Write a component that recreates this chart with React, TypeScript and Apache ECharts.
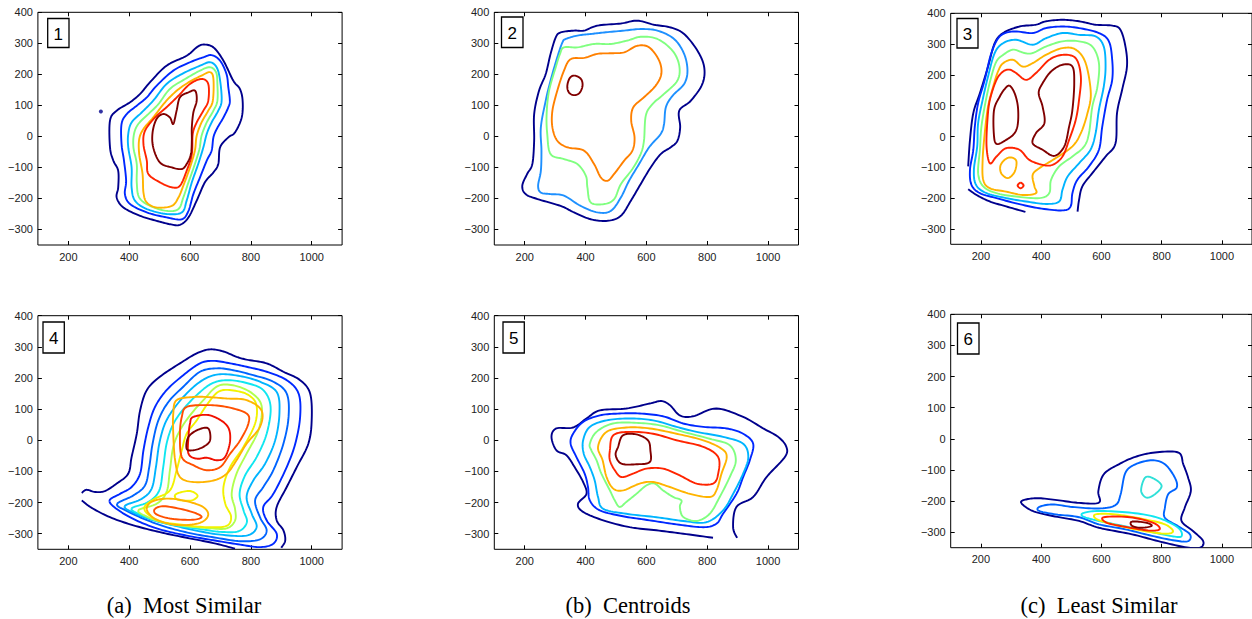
import React, { useEffect, useRef } from "react";
import * as echarts from "echarts";

// ---------- axes / labels ----------
const xTicks = [200, 400, 600, 800, 1000];
const yTicks = [-300, -200, -100, 0, 100, 200, 300, 400];
const xMin = 100, xMax = 1100, yMin = -350, yMax = 400;
const panelLabels = ["1", "2", "3", "4", "5", "6"];
const captions = ["(a)  Most Similar", "(b)  Centroids", "(c)  Least Similar"];

// ---------- colours (jet-like levels) ----------
const NAVY = "#00008C";
const BLUE = "#0028FF";
const BLUE2 = "#0064FF";
const DODGER = "#1E90FF";
const SKY = "#00B4FF";
const CYAN = "#10E6F0";
const AQUA = "#30E0D8";
const GREEN = "#80FF80";
const YGREEN = "#B0FF50";
const YELLOW = "#F2F200";
const ORANGE = "#FFB400";
const ORANGE2 = "#FF8000";
const RED1 = "#FF5000";
const RED = "#FF2400";
const RED2 = "#F01000";
const DARKRED = "#800000";

// ---------- panel 1 ----------
const p1Navy = [[644,296],[677,287],[710,244],[742,180],[764,153],[773,115],[770,61],[748,13],[726,-3],[699,-35],[693,-89],[677,-116],[649,-148],[622,-207],[595,-261],[567,-285],[534,-283],[490,-272],[436,-256],[381,-229],[359,-197],[364,-164],[364,-111],[348,-78],[337,-35],[337,51],[359,83],[403,110],[436,137],[468,174],[523,228],[589,260],[622,287]];
const p1Blue = [[671,262],[699,244],[720,201],[726,158],[731,115],[726,94],[710,61],[688,24],[677,-3],[671,-46],[655,-78],[633,-132],[611,-186],[595,-240],[573,-267],[523,-261],[458,-245],[403,-218],[386,-186],[390,-143],[383,-78],[375,-25],[375,40],[392,72],[425,99],[458,126],[490,163],[545,212],[600,239],[644,255]];
const p1Sky = [[666,239],[688,222],[699,180],[704,115],[693,83],[671,45],[655,8],[644,-35],[627,-89],[606,-148],[589,-207],[573,-245],[523,-250],[458,-234],[419,-207],[408,-164],[408,-100],[397,-35],[397,8],[408,45],[441,77],[479,115],[523,169],[573,201],[633,228]];
const p1Green = [[666,223],[686,206],[690,169],[690,115],[677,83],[655,45],[638,2],[631,-41],[614,-95],[595,-148],[578,-197],[562,-234],[523,-240],[469,-224],[433,-197],[425,-148],[425,-89],[414,-35],[416,8],[430,40],[463,72],[496,104],[534,153],[584,185],[633,212]];
const p1Orange = [[666,207],[677,185],[675,115],[660,83],[638,45],[622,2],[616,-46],[600,-100],[578,-159],[562,-197],[540,-224],[490,-229],[458,-213],[447,-181],[444,-121],[433,-57],[433,-9],[447,24],[479,61],[518,110],[556,147],[595,174],[638,196]];
const p1Red = [[638,185],[660,169],[660,115],[644,83],[622,45],[609,8],[606,-57],[589,-111],[567,-159],[540,-164],[501,-148],[463,-121],[458,-78],[447,-25],[452,18],[485,61],[523,94],[562,131],[600,169]];
const p1DarkRed = [[595,142],[617,147],[622,115],[611,77],[606,29],[606,-14],[603,-57],[589,-89],[573,-105],[540,-100],[501,-84],[479,-35],[477,13],[490,56],[512,72],[534,61],[545,40],[556,83],[567,126]];
const p1Dot = [[307,80]];

// ---------- panel 2 ----------
const p2Navy = [[318,335],[362,341],[395,341],[439,357],[516,364],[570,373],[625,360],[680,351],[724,330],[768,276],[790,223],[784,169],[746,115],[708,83],[711,29],[702,-14],[680,-35],[647,-57],[614,-100],[581,-154],[549,-207],[516,-256],[472,-272],[417,-267],[362,-245],[318,-224],[242,-202],[203,-186],[192,-159],[208,-121],[225,-89],[231,-14],[231,72],[247,147],[269,201],[285,266],[302,319]];
const p2Blue = [[335,314],[373,325],[417,330],[461,335],[527,341],[581,346],[636,341],[691,314],[724,266],[735,212],[724,169],[686,131],[664,94],[658,40],[647,8],[609,-35],[576,-89],[543,-143],[516,-197],[483,-240],[439,-245],[384,-224],[329,-191],[285,-186],[253,-181],[244,-159],[253,-111],[255,-46],[253,29],[269,115],[285,180],[307,255],[324,303]];
const p2Green = [[329,287],[373,287],[428,298],[483,298],[538,309],[581,321],[636,314],[686,276],[708,228],[702,180],[658,137],[620,104],[598,67],[592,-14],[581,-57],[554,-105],[516,-154],[494,-202],[461,-218],[417,-213],[406,-164],[401,-127],[373,-89],[329,-73],[285,-57],[274,8],[272,72],[280,147],[302,223],[316,266]];
const p2Orange = [[351,249],[395,253],[439,266],[483,268],[527,271],[570,292],[609,287],[642,244],[649,201],[630,163],[592,126],[557,94],[550,51],[561,-3],[554,-46],[527,-78],[494,-121],[472,-143],[450,-132],[428,-89],[395,-46],[340,-35],[307,-14],[291,29],[291,83],[307,147],[329,212]];
const p2DarkRed = [[364,196],[385,185],[390,163],[380,140],[362,133],[345,142],[340,163],[348,188]];

// ---------- panel 3 ----------
const p3Navy = [[158,-97],[164,-11],[175,76],[197,141],[224,227],[246,303],[274,336],[328,357],[383,363],[416,374],[471,379],[526,374],[581,363],[636,360],[663,347],[680,292],[685,227],[669,152],[652,76],[647,-22],[614,-65],[570,-119],[537,-162],[526,-206],[521,-244]];
const p3Navy2 = [[158,-171],[186,-190],[230,-211],[284,-227],[348,-245]];
const p3Blue = [[263,325],[307,341],[372,336],[416,352],[471,357],[526,352],[592,336],[625,309],[636,249],[636,184],[619,119],[603,32],[592,-43],[559,-97],[520,-141],[504,-184],[498,-227],[471,-240],[394,-233],[317,-217],[252,-200],[197,-184],[169,-157],[164,-108],[175,-43],[180,32],[191,108],[213,184],[235,271]];
const p3Sky = [[274,303],[317,314],[372,298],[416,319],[471,336],[526,330],[581,325],[608,292],[614,227],[608,162],[592,87],[581,11],[564,-43],[526,-87],[488,-130],[471,-173],[460,-211],[416,-219],[350,-211],[284,-200],[219,-184],[184,-157],[177,-108],[188,-32],[191,43],[206,119],[224,195],[246,271]];
const p3Green = [[274,265],[307,282],[345,271],[372,271],[416,292],[471,309],[526,309],[570,292],[592,238],[587,162],[570,97],[559,11],[543,-32],[504,-65],[460,-97],[433,-141],[427,-184],[394,-200],[317,-195],[252,-184],[208,-162],[191,-119],[197,-43],[202,32],[217,119],[235,195],[252,244]];
const p3Orange = [[274,238],[307,249],[339,227],[372,238],[416,265],[471,287],[515,282],[548,238],[565,141],[554,76],[532,11],[504,-32],[449,-70],[394,-103],[372,-125],[378,-162],[383,-184],[339,-190],[284,-179],[230,-168],[208,-141],[206,-76],[213,11],[224,97],[241,162],[257,211]];
const p3OrangeIsland = [[300,-68],[318,-80],[312,-115],[290,-135],[268,-120],[265,-95],[280,-75]];
const p3Red = [[295,217],[317,206],[350,184],[383,206],[427,249],[471,265],[515,254],[532,195],[526,119],[515,54],[493,-11],[471,-65],[438,-92],[405,-92],[361,-76],[328,-43],[284,-38],[252,-65],[230,-87],[219,-32],[222,54],[230,119],[252,184],[274,211]];
const p3RedIsland = [[332,-150],[342,-159],[332,-168],[322,-159]];
const p3DarkRedL = [[295,165],[312,141],[323,97],[323,43],[312,11],[284,-11],[252,-24],[243,11],[244,87],[263,130],[279,154]];
const p3DarkRedR = [[471,233],[504,227],[510,173],[504,87],[493,32],[477,-32],[444,-63],[405,-43],[372,-22],[383,11],[411,43],[405,97],[392,141],[405,173],[433,211]];

// ---------- panel 4 ----------
const p4Navy = [[244,-169],[260,-159],[288,-166],[320,-163],[359,-139],[397,-107],[408,-54],[425,21],[436,96],[458,161],[501,204],[567,247],[622,279],[666,292],[710,285],[753,268],[786,259],[852,247],[907,220],[962,193],[995,150],[1000,64],[989,-11],[951,-86],[918,-150],[885,-214],[885,-257],[907,-289],[913,-322],[900,-345]];
const p4Navy2 = [[244,-193],[277,-217],[337,-247],[414,-273],[501,-295],[589,-313],[677,-330],[748,-348]];
const p4Blue = [[335,-195],[370,-172],[408,-150],[436,-107],[447,-32],[463,43],[485,107],[523,161],[578,209],[633,247],[677,255],[732,247],[786,236],[852,220],[918,193],[957,150],[962,75],[946,-11],[918,-86],[874,-172],[841,-214],[852,-257],[885,-300],[874,-332],[830,-343],[765,-335],[677,-321],[589,-306],[501,-286],[430,-260],[370,-228]];
const p4Blue2 = [[360,-205],[414,-177],[452,-145],[466,-86],[477,-11],[496,64],[529,123],[578,172],[633,220],[688,231],[742,225],[808,209],[874,188],[918,150],[924,75],[907,-11],[874,-96],[841,-150],[814,-193],[830,-247],[852,-289],[830,-318],[765,-324],[680,-312],[600,-298],[520,-278],[450,-253],[395,-228]];
const p4Sky = [[385,-212],[441,-188],[474,-155],[488,-86],[499,-11],[518,54],[551,107],[600,161],[650,198],[699,212],[765,206],[830,188],[885,155],[894,86],[880,0],[847,-75],[808,-129],[786,-182],[803,-236],[819,-279],[786,-306],[700,-303],[620,-290],[545,-273],[480,-257],[420,-235]];
const p4Cyan = [[408,-219],[463,-198],[499,-161],[512,-86],[523,-11],[543,48],[575,96],[622,145],[671,182],[721,193],[786,184],[841,161],[865,107],[852,21],[819,-54],[781,-113],[763,-172],[776,-225],[787,-263],[760,-292],[700,-294],[640,-286],[567,-276],[500,-262],[440,-240]];
const p4Green = [[430,-225],[490,-204],[523,-166],[534,-96],[545,-21],[567,32],[600,80],[644,129],[693,175],[753,174],[808,148],[836,107],[825,32],[786,-43],[753,-107],[737,-172],[748,-220],[748,-258],[720,-283],[660,-282],[590,-276],[520,-266],[465,-248]];
const p4Yellow = [[450,-215],[480,-190],[534,-161],[556,-96],[573,-32],[589,21],[622,64],[660,120],[700,159],[760,157],[800,140],[819,110],[814,54],[776,-21],[732,-86],[710,-150],[716,-204],[735,-245],[720,-275],[655,-279],[580,-272],[510,-262],[465,-240]];
const p4YellowIsland = [[560,-170],[600,-163],[625,-178],[605,-193],[565,-192],[550,-181]];
const p4Orange = [[556,129],[611,139],[655,139],[721,134],[786,129],[835,96],[830,43],[786,-11],[753,-64],[721,-107],[677,-129],[611,-134],[567,-118],[551,-64],[545,21],[545,86]];
const p4OrangeLow = [[458,-222],[479,-195],[545,-188],[633,-209],[660,-238],[633,-265],[560,-272],[490,-255]];
const p4Red1 = [[589,107],[655,113],[721,107],[786,86],[792,54],[765,0],[732,-43],[699,-86],[655,-96],[611,-80],[573,-54],[567,21],[573,75]];
const p4RedLow = [[485,-220],[520,-212],[600,-228],[638,-245],[610,-255],[540,-252],[490,-238]];
const p4Red2 = [[611,75],[666,80],[721,48],[732,0],[715,-54],[688,-64],[655,-56],[622,-59],[595,-43],[595,11],[600,54]];
const p4DarkRed = [[627,34],[660,38],[666,0],[644,-21],[611,-32],[589,-27],[595,11]];

// ---------- panel 5 ----------
const p5Navy = [[898,-313],[885,-279],[896,-214],[951,-182],[995,-118],[1055,-54],[1060,-21],[1033,11],[984,38],[918,75],[830,102],[753,77],[710,80],[677,113],[649,126],[611,118],[534,102],[447,96],[403,70],[359,41],[304,38],[288,11],[304,-32],[337,-48],[364,-86],[392,-134],[403,-172],[375,-204],[392,-230],[458,-257],[545,-279],[633,-289],[721,-300],[819,-313]];
const p5Blue = [[359,21],[392,59],[447,80],[512,86],[578,86],[655,77],[721,54],[787,43],[864,38],[918,21],[951,-11],[940,-64],[918,-118],[896,-172],[852,-236],[830,-268],[787,-279],[699,-270],[611,-257],[523,-244],[447,-225],[414,-193],[408,-150],[397,-107],[370,-54],[351,-11]];
const p5Sky = [[392,0],[414,43],[469,64],[545,70],[622,64],[699,43],[765,27],[852,11],[918,-11],[935,-54],[918,-107],[885,-172],[852,-225],[797,-263],[721,-259],[633,-247],[534,-236],[458,-220],[441,-182],[430,-129],[414,-86],[394,-43]];
const p5Green = [[414,-11],[436,27],[490,54],[567,56],[644,48],[721,27],[808,5],[874,-16],[894,-64],[874,-118],[841,-182],[808,-236],[765,-259],[721,-246],[710,-214],[715,-193],[688,-182],[655,-161],[627,-139],[600,-145],[567,-172],[534,-198],[512,-214],[496,-193],[480,-161],[452,-107],[436,-64],[419,-32]];
const p5Orange = [[441,-21],[469,27],[534,41],[611,38],[699,21],[787,0],[847,-27],[864,-54],[847,-107],[830,-161],[808,-182],[743,-172],[677,-150],[622,-134],[578,-139],[523,-161],[491,-155],[469,-118],[456,-64]];
const p5Red = [[480,-32],[491,16],[545,27],[622,21],[699,0],[787,-21],[836,-54],[836,-107],[819,-139],[765,-139],[710,-113],[655,-91],[600,-91],[556,-107],[518,-118],[496,-96],[480,-64]];
const p5DarkRed = [[523,16],[567,19],[605,0],[613,-32],[611,-70],[567,-77],[518,-75],[499,-48],[507,-21]];

// ---------- panel 6 ----------
const p6Navy = [[334,-206],[350,-195],[394,-191],[460,-198],[526,-206],[592,-205],[590,-168],[608,-114],[658,-82],[713,-58],[778,-44],[855,-44],[872,-82],[888,-125],[897,-168],[877,-221],[866,-264],[905,-297],[938,-329],[927,-350],[877,-348],[789,-329],[702,-307],[592,-286],[526,-264],[438,-248],[372,-232]];
const p6Blue = [[394,-219],[438,-211],[504,-219],[592,-224],[647,-213],[664,-178],[680,-109],[713,-82],[768,-69],[811,-82],[844,-125],[850,-157],[822,-178],[811,-221],[811,-254],[855,-281],[894,-307],[888,-329],[844,-327],[768,-312],[680,-291],[592,-275],[526,-252],[449,-243],[394,-232]];
const p6CyanLoop = [[745,-125],[772,-127],[800,-151],[778,-178],[750,-189],[732,-167]];
const p6Cyan = [[542,-238],[592,-232],[702,-238],[789,-254],[855,-286],[866,-313],[833,-313],[745,-295],[647,-275],[570,-259],[537,-248]];
const p6Yellow = [[581,-243],[647,-243],[745,-259],[811,-275],[838,-297],[811,-305],[734,-295],[647,-277],[586,-259]];
const p6Red = [[608,-252],[695,-252],[772,-270],[794,-290],[761,-295],[685,-284],[619,-270]];
const p6DarkRed = [[702,-266],[750,-270],[767,-280],[734,-286],[702,-280]];

type Line = { c: string; d: number[][]; open?: boolean };

const panels: Line[][] = [
  [
    { c: NAVY, d: p1Navy }, { c: BLUE, d: p1Blue }, { c: SKY, d: p1Sky }, { c: GREEN, d: p1Green },
    { c: ORANGE, d: p1Orange }, { c: RED, d: p1Red }, { c: DARKRED, d: p1DarkRed },
  ],
  [
    { c: NAVY, d: p2Navy }, { c: DODGER, d: p2Blue }, { c: GREEN, d: p2Green },
    { c: ORANGE2, d: p2Orange }, { c: DARKRED, d: p2DarkRed },
  ],
  [
    { c: NAVY, d: p3Navy, open: true }, { c: NAVY, d: p3Navy2, open: true }, { c: BLUE, d: p3Blue },
    { c: SKY, d: p3Sky }, { c: GREEN, d: p3Green }, { c: ORANGE, d: p3Orange }, { c: ORANGE, d: p3OrangeIsland },
    { c: RED, d: p3Red }, { c: RED, d: p3RedIsland }, { c: DARKRED, d: p3DarkRedL }, { c: DARKRED, d: p3DarkRedR },
  ],
  [
    { c: NAVY, d: p4Navy, open: true }, { c: NAVY, d: p4Navy2, open: true }, { c: BLUE, d: p4Blue },
    { c: BLUE2, d: p4Blue2 }, { c: SKY, d: p4Sky }, { c: CYAN, d: p4Cyan }, { c: YGREEN, d: p4Green },
    { c: YELLOW, d: p4Yellow }, { c: YELLOW, d: p4YellowIsland }, { c: ORANGE, d: p4Orange },
    { c: ORANGE, d: p4OrangeLow }, { c: RED1, d: p4Red1 }, { c: RED1, d: p4RedLow },
    { c: RED2, d: p4Red2 }, { c: DARKRED, d: p4DarkRed },
  ],
  [
    { c: NAVY, d: p5Navy, open: true }, { c: BLUE, d: p5Blue }, { c: SKY, d: p5Sky }, { c: GREEN, d: p5Green },
    { c: ORANGE, d: p5Orange }, { c: RED, d: p5Red }, { c: DARKRED, d: p5DarkRed },
  ],
  [
    { c: NAVY, d: p6Navy }, { c: BLUE2, d: p6Blue }, { c: AQUA, d: p6CyanLoop }, { c: CYAN, d: p6Cyan },
    { c: YELLOW, d: p6Yellow }, { c: RED, d: p6Red }, { c: DARKRED, d: p6DarkRed },
  ],
];

// layout (pixels)
const GRIDS = [
  { left: 37.9, top: 12.3, width: 304.2, height: 232.7 },
  { left: 494.3, top: 12.3, width: 304.2, height: 232.7 },
  { left: 950.7, top: 13.3, width: 303, height: 231 },
  { left: 37.9, top: 315.7, width: 304.2, height: 233.6 },
  { left: 494.3, top: 315.7, width: 304.2, height: 233.6 },
  { left: 950.7, top: 314.3, width: 303, height: 233.4 },
];
const BOXES = [
  { x: 47.7, y: 18.5, w: 21.3, h: 29 },
  { x: 501.5, y: 17, w: 21.5, h: 30.5 },
  { x: 957, y: 18.5, w: 21, h: 29.5 },
  { x: 43, y: 322, w: 21.3, h: 31 },
  { x: 503, y: 322, w: 21.3, h: 31 },
  { x: 957.5, y: 323, w: 21.5, h: 31 },
];
const CAPTION_POS = [{ x: 184, y: 605 }, { x: 628, y: 605 }, { x: 1099, y: 605 }];

const fmtY = (v: number) => (v < 0 ? "\u2212" + Math.abs(v) : String(v));
const fmtX = (v: number) => String(v);

// Catmull-Rom interpolation in pixel space (rendering only)
function spline(pts: number[][], closed: boolean, seg = 10): number[][] {
  const n = pts.length;
  const out: number[][] = [];
  if (n < 2) return pts;
  const get = (i: number) => (closed ? pts[((i % n) + n) % n] : pts[Math.max(0, Math.min(n - 1, i))]);
  const last = closed ? n : n - 1;
  for (let i = 0; i < last; i++) {
    const p0 = get(i - 1), p1 = get(i), p2 = get(i + 1), p3 = get(i + 2);
    for (let s = 0; s < seg; s++) {
      const t = s / seg, t2 = t * t, t3 = t2 * t;
      const f = (k: number) =>
        0.5 * (2 * p1[k] + (-p0[k] + p2[k]) * t + (2 * p0[k] - 5 * p1[k] + 4 * p2[k] - p3[k]) * t2 +
          (-p0[k] + 3 * p1[k] - 3 * p2[k] + p3[k]) * t3);
      out.push([f(0), f(1)]);
    }
  }
  out.push(closed ? pts[0] : pts[n - 1]);
  return out;
}

export default function App() {
  const ref = useRef<HTMLDivElement>(null);
  useEffect(() => {
    if (!ref.current) return;
    const chart = echarts.init(ref.current, undefined, { renderer: "svg" });
    const grid: any[] = [];
    const xAxis: any[] = [];
    const yAxis: any[] = [];
    const series: any[] = [];
    const tickStyle = { color: "#000", width: 1 };
    const labelStyle = { fontSize: 11, color: "#222", fontFamily: "Liberation Sans, Arial, sans-serif" };
    const noLine = { show: false, onZero: false };
    GRIDS.forEach((g, i) => {
      grid.push({ ...g, show: true, borderColor: "#000", borderWidth: 1, backgroundColor: "transparent", containLabel: false });
      xAxis.push({
        gridIndex: i, type: "value", min: xMin, max: xMax, position: "bottom",
        axisLine: noLine, splitLine: { show: false },
        axisTick: { show: true, inside: true, length: 4, customValues: xTicks, lineStyle: tickStyle },
        axisLabel: { ...labelStyle, customValues: xTicks, margin: 6, formatter: fmtX },
      });
      xAxis.push({
        gridIndex: i, type: "value", min: xMin, max: xMax, position: "top",
        axisLine: noLine, splitLine: { show: false },
        axisTick: { show: true, inside: true, length: 4, customValues: xTicks, lineStyle: tickStyle },
        axisLabel: { show: false },
      });
      yAxis.push({
        gridIndex: i, type: "value", min: yMin, max: yMax, position: "left",
        axisLine: noLine, splitLine: { show: false },
        axisTick: { show: true, inside: true, length: 4, customValues: yTicks, lineStyle: tickStyle },
        axisLabel: { ...labelStyle, customValues: yTicks, margin: 5, formatter: fmtY },
      });
      yAxis.push({
        gridIndex: i, type: "value", min: yMin, max: yMax, position: "right",
        axisLine: noLine, splitLine: { show: false },
        axisTick: { show: true, inside: true, length: 4, customValues: yTicks, lineStyle: tickStyle },
        axisLabel: { show: false },
      });
      panels[i].forEach((ln) => {
        const closed = !ln.open;
        series.push({
          type: "custom",
          coordinateSystem: "cartesian2d",
          xAxisIndex: 2 * i,
          yAxisIndex: 2 * i,
          data: ln.d,
          clip: true,
          silent: true,
          renderItem: (params: any, api: any) => {
            if (params.dataIndex !== 0) return null;
            const px = ln.d.map((p) => api.coord(p));
            return {
              type: "polyline",
              shape: { points: spline(px, closed) },
              style: { stroke: ln.c, lineWidth: 1.9, fill: null, lineJoin: "round" },
            };
          },
        });
      });
    });
    series.push({
      type: "scatter", xAxisIndex: 0, yAxisIndex: 0, data: p1Dot,
      symbol: "circle", symbolSize: 4, itemStyle: { color: NAVY }, silent: true,
    });

    const graphic: any[] = [];
    BOXES.forEach((b, i) => {
      graphic.push({
        type: "rect", shape: { x: b.x, y: b.y, width: b.w, height: b.h },
        style: { fill: "#fff", stroke: "#000", lineWidth: 1.3 }, z: 10,
      });
      graphic.push({
        type: "text", x: b.x + b.w / 2, y: b.y + b.h / 2 + 1, z: 11,
        style: {
          text: panelLabels[i], fill: "#000", fontSize: 17,
          fontFamily: "Liberation Sans, Arial, sans-serif",
          textAlign: "center", textVerticalAlign: "middle",
        },
      });
    });
    captions.forEach((t, i) => {
      graphic.push({
        type: "text", x: CAPTION_POS[i].x, y: CAPTION_POS[i].y, z: 11,
        style: {
          text: t, fill: "#000", fontSize: 22.5,
          fontFamily: "Liberation Serif, Times New Roman, serif",
          textAlign: "center", textVerticalAlign: "middle",
        },
      });
    });

    chart.setOption({
      animation: false,
      backgroundColor: "#fff",
      grid, xAxis, yAxis, series, graphic,
    });
    return () => chart.dispose();
  }, []);
  return (
    <div
      ref={ref}
      style={{ position: "absolute", left: 0, top: 0, width: 1252, height: 619, overflow: "hidden" }}
    />
  );
}
